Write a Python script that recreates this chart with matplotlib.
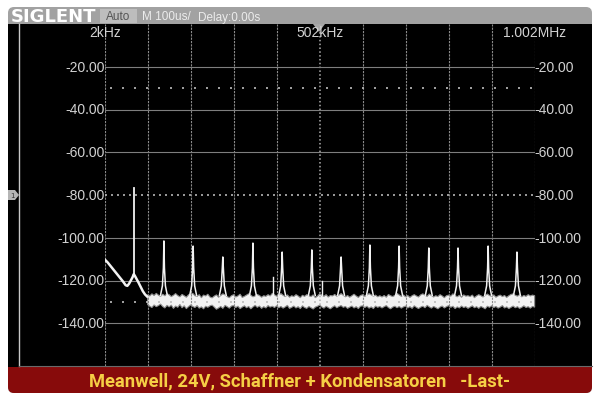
import numpy as np
import matplotlib
matplotlib.use("Agg")
import matplotlib.pyplot as plt
from matplotlib.patches import FancyBboxPatch, Rectangle, Polygon

# FFT screen of a Siglent scope (kHz / dB)
f_start, f_stop = 2, 1002
db_top, db_bottom = 0, -160
y_labels = [-20, -40, -60, -80, -100, -120, -140]
freq_labels = [(2, "2kHz"), (502, "502kHz"), (1002, "1.002MHz")]
ref_lines = [-30, -130]

# low frequency part of the trace (falling curve + bump of the fundamental)
lf_freq = [2, 8, 14, 20, 26, 32, 38, 44, 50, 54, 58, 62, 66, 69, 72, 76, 80, 85, 90, 95, 100]
lf_db = [-110.3, -111.5, -113.0, -114.5, -116.0, -117.5, -119.0, -120.5, -122.2, -122.5,
         -121.5, -120.0, -118.5, -117.0, -118.0, -119.5, -121.0, -123.0, -125.0, -126.5, -127.5]

# noise floor band, 5 kHz steps from 100 kHz to 1000 kHz
floor_start, floor_step = 100, 5
floor_hi = [
    -126.5, -127.0, -126.0, -126.8, -125.8, -126.6, -127.2, -126.2, -126.9, -126.0,
    -126.4, -127.3, -126.7, -125.9, -126.8, -127.4, -126.3, -126.9, -127.6, -126.5,
    -126.1, -125.8, -126.9, -127.2, -126.4, -127.8, -126.6, -127.0, -126.2, -127.5,
    -127.9, -127.1, -126.5, -127.6, -126.8, -126.0, -126.5, -127.3, -127.8, -126.9,
    -126.4, -127.5, -127.0, -126.2, -127.7, -127.2, -126.6, -126.0, -126.7, -127.4,
    -127.0, -126.3, -126.8, -127.6, -126.9, -127.2, -126.4, -127.0, -125.8, -126.5,
    -127.1, -126.6, -125.9, -126.7, -127.3, -126.5, -127.6, -126.9, -127.3, -126.4,
    -127.0, -127.8, -126.7, -127.2, -126.4, -126.9, -127.3, -126.5, -127.8, -127.1,
    -126.0, -126.6, -127.2, -126.4, -127.5, -126.8, -127.0, -126.3, -127.1, -126.6,
    -125.9, -126.7, -127.4, -126.8, -127.6, -126.9, -126.2, -127.0, -127.7, -126.8,
    -126.4, -127.2, -126.6, -125.9, -126.5, -127.1, -126.6, -127.4, -126.9, -127.5,
    -126.8, -127.6, -126.3, -126.9, -127.3, -126.7, -125.8, -126.5, -127.2, -126.6,
    -127.4, -126.8, -127.7, -126.9, -126.4, -127.0, -127.5, -126.5, -126.0, -126.7,
    -127.2, -126.1, -126.8, -127.5, -126.9, -127.3, -126.4, -127.0, -127.8, -126.9,
    -126.6, -127.1, -126.0, -126.8, -127.4, -126.7, -127.6, -126.5, -127.1, -126.9,
    -127.3, -126.6, -127.8, -127.0, -126.4, -126.9, -127.5, -126.7, -126.1, -126.8,
    -127.2, -126.5, -127.6, -127.0, -126.6, -127.3, -126.8, -127.7, -126.9, -126.3,
    -126.0, -126.7, -127.1, -126.5, -127.4, -126.8, -127.2, -126.4, -127.0, -126.6, -126.9,
]
floor_lo = [
    -131.0, -131.8, -132.4, -131.2, -132.0, -131.5, -130.8, -131.9, -132.6, -131.4,
    -132.1, -131.3, -132.8, -131.7, -132.3, -131.0, -132.5, -131.6, -132.9, -132.0,
    -131.2, -131.9, -132.4, -131.5, -132.7, -132.1, -133.0, -131.8, -132.3, -131.6,
    -131.3, -132.2, -133.2, -132.6, -131.9, -132.8, -131.4, -132.0, -132.7, -131.7,
    -131.5, -132.4, -131.8, -132.9, -132.2, -131.6, -132.5, -131.9, -133.0, -132.1,
    -131.4, -132.3, -131.7, -132.8, -132.0, -132.6, -131.5, -132.2, -131.8, -132.4,
    -131.6, -132.5, -131.9, -132.7, -132.1, -131.4, -132.8, -132.3, -131.7, -132.6,
    -132.0, -132.9, -131.6, -132.4, -132.8, -131.9, -132.5, -133.1, -132.2, -131.8,
    -131.3, -132.1, -132.7, -131.8, -132.4, -133.0, -132.2, -131.6, -132.5, -131.9,
    -131.5, -132.3, -131.9, -132.8, -132.2, -131.7, -132.6, -132.0, -132.9, -131.8,
    -131.6, -132.4, -131.8, -132.7, -132.1, -132.9, -131.7, -132.3, -131.9, -132.6,
    -132.0, -131.5, -132.4, -133.0, -132.2, -131.8, -132.5, -131.9, -132.7, -132.1,
    -131.7, -132.6, -132.0, -132.8, -131.6, -132.3, -132.9, -132.2, -131.8, -132.5,
    -131.4, -132.1, -132.7, -131.9, -132.4, -133.0, -132.2, -131.7, -132.6, -132.0,
    -131.5, -132.3, -131.8, -132.9, -132.1, -132.6, -131.7, -132.4, -132.0, -132.8,
    -132.2, -131.6, -132.5, -132.0, -132.8, -131.9, -132.4, -133.0, -131.8, -132.3,
    -131.6, -132.4, -131.9, -132.7, -132.2, -131.5, -132.6, -132.1, -132.9, -132.3,
    -131.7, -132.5, -132.0, -132.8, -132.3, -131.6, -132.4, -132.0, -132.7, -131.9, -132.2,
]

# switching frequency harmonics (~68.5 kHz)
harm_freq = [70, 139, 207, 276, 346, 414, 483, 551, 618, 686, 755, 823, 893, 960]
harm_peak = [-76.7, -101.5, -103.9, -109.0, -102.5, -106.7, -105.7, -109.0,
             -103.4, -103.9, -104.8, -104.8, -103.9, -106.7]
small_freq = [392, 507]
small_peak = [-118.4, -120.2]

title = "Meanwell, 24V, Schaffner + Kondensatoren   -Last-"

# skirt shape around each harmonic (style only)
skirt_df = [-8, -3.5, -1.2, 0, 1.2, 3.5, 8]
skirt_lv = [-127.0, -122.5, -114.0, None, -114.0, -122.5, -127.0]

trace_col = "#f2f2f2"
grid_col = "#8a8a8a"
label_col = "#d2d2d2"

fig = plt.figure(figsize=(6, 4.02), dpi=100)
fig.patch.set_facecolor("white")

# background / frame in pixel coordinates
bg = fig.add_axes([0, 0, 1, 1])
bg.set_xlim(0, 600)
bg.set_ylim(402, 0)
bg.axis("off")

bg.add_patch(FancyBboxPatch((8, 8), 584, 386, boxstyle="round,pad=0,rounding_size=6",
                            fc="#a2a2a2", ec="none"))
bg.add_patch(Rectangle((8, 25), 584, 343, fc="black", ec="none"))
bg.add_patch(FancyBboxPatch((8, 368), 584, 26, boxstyle="round,pad=0,rounding_size=6",
                            fc="#870b0b", ec="none"))
bg.add_patch(Rectangle((8, 368), 584, 10, fc="#870b0b", ec="none"))
bg.plot([19, 19], [25, 367], color="#c8c8c8", lw=1)
bg.plot([19, 592], [366.5, 366.5], color="#6a6a6a", lw=0.8)

# top status bar
bg.text(11, 17, "SIGLENT", color="white", fontsize=13, fontweight="bold",
        family="DejaVu Sans", va="center", ha="left")
bg.add_patch(Rectangle((100, 10), 37, 14, fc="#bdbdbd", ec="none"))
bg.text(118.5, 17.5, "Auto", color="#555555", fontsize=8.5, family="Liberation Sans",
        va="center", ha="center")
bg.text(142, 17.5, "M 100us/", color="#ececec", fontsize=8.5, family="Liberation Sans",
        va="center", ha="left")
bg.text(198, 17.5, "Delay:0.00s", color="#ececec", fontsize=8.5, family="Liberation Sans",
        va="center", ha="left")

# channel marker and trigger marker
bg.add_patch(Polygon([[8, 191], [15, 191], [19, 196], [15, 201], [8, 201]], closed=True,
                     fc="#b5b5b5", ec="none"))
bg.text(12.5, 196, "1", color="#333333", fontsize=5, va="center", ha="center")
bg.add_patch(Polygon([[313, 25], [325, 25], [319, 33]], closed=True, fc="#a8a8a8", ec="none"))

# bottom banner
bg.text(300, 381.5, title, color="#f6cf45", fontsize=13.2, fontweight="bold", family="Roboto",
        va="center", ha="center")

# spectrum axes
ax = fig.add_axes([105 / 600, 1 - 367 / 402, 430 / 600, 342 / 402])
ax.set_xlim(f_start, f_stop)
ax.set_ylim(db_bottom, db_top)
ax.axis("off")
ax.patch.set_alpha(0)

for i in range(11):
    fx = f_start + i * (f_stop - f_start) / 10
    if i == 5:
        ax.axvline(fx, color="#b0b0b0", lw=1.1, ls=(0, (1, 1.5)))
    else:
        ax.axvline(fx, color=grid_col, lw=0.8, ls=(0, (2, 1)))
for lv in y_labels:
    if lv == -80:
        ax.axhline(lv, color="#b5b5b5", lw=1.2, ls=(0, (1.2, 2.4)))
    else:
        ax.axhline(lv, color="#7e7e7e", lw=0.8)
for lv in ref_lines:
    ax.plot([f_start + 12, f_stop - 6], [lv, lv], color="#bdbdbd", lw=1.2, ls=(0, (1.2, 6)))

for lv in y_labels:
    ax.text(f_start - 1, lv, f"{lv:.2f}", color=label_col, fontsize=10,
            family="Liberation Sans", ha="right", va="center", clip_on=False)
    ax.text(f_stop - 2, lv, f"{lv:.2f}", color=label_col, fontsize=10,
            family="Liberation Sans", ha="left", va="center", clip_on=False)
for fx, txt in freq_labels:
    ax.text(fx, -3.8, txt, color=label_col, fontsize=10, family="Liberation Sans",
            ha="center", va="center", clip_on=False)

# trace
floor_freq = floor_start + floor_step * np.arange(len(floor_hi))
ax.fill_between(floor_freq, floor_lo, floor_hi, facecolor=trace_col, edgecolor="#909090",
                lw=0.8)
ax.plot(lf_freq, lf_db, color=trace_col, lw=1.8)

for k, (fh, pk) in enumerate(zip(harm_freq, harm_peak)):
    if k == 0:
        base = np.interp(fh, lf_freq, lf_db)
        ax.plot([fh, fh], [base, pk], color=trace_col, lw=1.3)
        continue
    xs = [fh + d for d in skirt_df]
    ys = [pk if v is None else v for v in skirt_lv]
    ax.plot(xs, ys, color=trace_col, lw=1.1)
for fs, pk in zip(small_freq, small_peak):
    ax.plot([fs, fs], [-127, pk], color=trace_col, lw=1.0)

fig.savefig("out.png", dpi=100, facecolor="white")
